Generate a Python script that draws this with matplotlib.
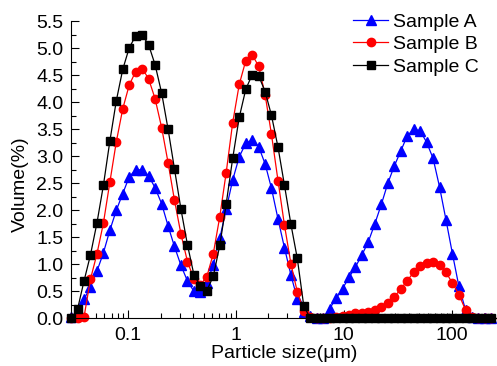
import numpy as np
from matplotlib import pyplot as plt
from matplotlib import ticker

plt.rcParams["font.family"] = ["Liberation Sans", "DejaVu Sans"]
plt.rcParams["font.size"] = 14

# particle size channels (um)
sizes = [0.0294, 0.0338, 0.0388, 0.0445, 0.0511, 0.0587, 0.0674, 0.0774, 0.0888, 0.102,
         0.117, 0.135, 0.154, 0.177, 0.204, 0.234, 0.268, 0.308, 0.354, 0.406,
         0.466, 0.535, 0.615, 0.706, 0.810, 0.930, 1.07, 1.23, 1.41, 1.62,
         1.86, 2.13, 2.45, 2.81, 3.23, 3.70, 4.25, 4.88, 5.61, 6.44,
         7.39, 8.48, 9.74, 11.2, 12.8, 14.7, 16.9, 19.4, 22.3, 25.6,
         29.4, 33.8, 38.8, 44.5, 51.1, 58.7, 67.4, 77.4, 88.8, 102,
         117, 135, 154, 177, 204, 234]

vol_a = [0.03, 0.09, 0.35, 0.58, 0.87, 1.21, 1.63, 2.00, 2.31, 2.62,
         2.75, 2.75, 2.64, 2.42, 2.12, 1.71, 1.33, 0.98, 0.69, 0.50,
         0.49, 0.65, 0.99, 1.48, 2.02, 2.56, 2.99, 3.24, 3.30, 3.18,
         2.86, 2.41, 1.84, 1.31, 0.80, 0.36, 0.12, 0.04, 0.0, 0.0,
         0.18, 0.37, 0.55, 0.76, 0.95, 1.17, 1.42, 1.75, 2.11, 2.50,
         2.82, 3.10, 3.38, 3.50, 3.47, 3.26, 2.96, 2.43, 1.82, 1.19,
         0.59, 0.15, 0.03, 0.0, 0.0, 0.0]

vol_b = [0.0, 0.0, 0.02, 0.72, 1.19, 1.76, 2.52, 3.27, 3.88, 4.32,
         4.57, 4.62, 4.44, 4.07, 3.53, 2.88, 2.19, 1.56, 1.05, 0.73,
         0.62, 0.77, 1.20, 1.88, 2.70, 3.62, 4.33, 4.77, 4.88, 4.67,
         4.14, 3.41, 2.55, 1.73, 1.01, 0.49, 0.14, 0.02, 0.0, 0.0,
         0.01, 0.03, 0.04, 0.07, 0.09, 0.10, 0.12, 0.15, 0.21, 0.29,
         0.40, 0.54, 0.70, 0.85, 0.97, 1.02, 1.04, 0.99, 0.85, 0.65,
         0.44, 0.15, 0.02, 0.0, 0.0, 0.0]

vol_c = [0.0, 0.17, 0.69, 1.17, 1.76, 2.46, 3.28, 4.03, 4.61, 5.01,
         5.23, 5.24, 5.07, 4.70, 4.17, 3.50, 2.77, 2.02, 1.36, 0.81,
         0.60, 0.51, 0.78, 1.35, 2.12, 2.96, 3.72, 4.24, 4.51, 4.49,
         4.20, 3.76, 3.17, 2.47, 1.74, 1.11, 0.23, 0.0, 0.0, 0.0,
         0.0, 0.0, 0.0, 0.0, 0.0, 0.0, 0.0, 0.0, 0.0, 0.0,
         0.0, 0.0, 0.0, 0.0, 0.0, 0.0, 0.0, 0.0, 0.0, 0.0,
         0.0, 0.0, 0.0, 0.0, 0.0, 0.0]

labels = ["Sample A", "Sample B", "Sample C"]
xticks = [0.1, 1, 10, 100]
xticklabels = ["0.1", "1", "10", "100"]

fig = plt.figure(figsize=(4.97, 3.66), dpi=100)
ax = fig.add_axes([0.1429, 0.1303, 0.8571, 0.8115])

ax.plot(sizes, vol_a, color="blue", marker="^", ms=7, lw=0.9, label=labels[0], clip_on=False)
ax.plot(sizes, vol_b, color="red", marker="o", ms=6, lw=0.9, label=labels[1], clip_on=False)
ax.plot(sizes, vol_c, color="black", marker="s", ms=5.5, lw=0.9, label=labels[2], clip_on=False)

ax.set_xscale("log")
ax.set_xlim(0.0294, 264)
ax.set_ylim(0, 5.5)
ax.set_xticks(xticks)
ax.set_xticklabels(xticklabels)
ax.xaxis.set_minor_formatter(ticker.NullFormatter())
ax.yaxis.set_major_locator(ticker.MultipleLocator(0.5))
ax.yaxis.set_minor_locator(ticker.MultipleLocator(0.25))
ax.yaxis.set_major_formatter(ticker.FormatStrFormatter("%.1f"))

ax.spines["top"].set_visible(False)
ax.spines["right"].set_visible(False)
ax.tick_params(which="both", direction="in", top=False, right=False, width=0.8)
ax.tick_params(which="major", length=6)
ax.tick_params(which="minor", length=3.5)
ax.tick_params(axis="x", pad=6)
ax.tick_params(axis="y", pad=5.5)

ax.set_xlabel("Particle size(μm)", labelpad=1)
ax.set_ylabel("Volume(%)")
ax.yaxis.set_label_coords(-0.099, 0.452)

ax.legend(loc="upper left", bbox_to_anchor=(353 / 497, 1 - 13 / 366), bbox_transform=fig.transFigure,
          frameon=False, borderpad=0, borderaxespad=0, handlelength=1.8, handletextpad=0.26,
          labelspacing=0.26)

fig.savefig("out.png", dpi=100)
